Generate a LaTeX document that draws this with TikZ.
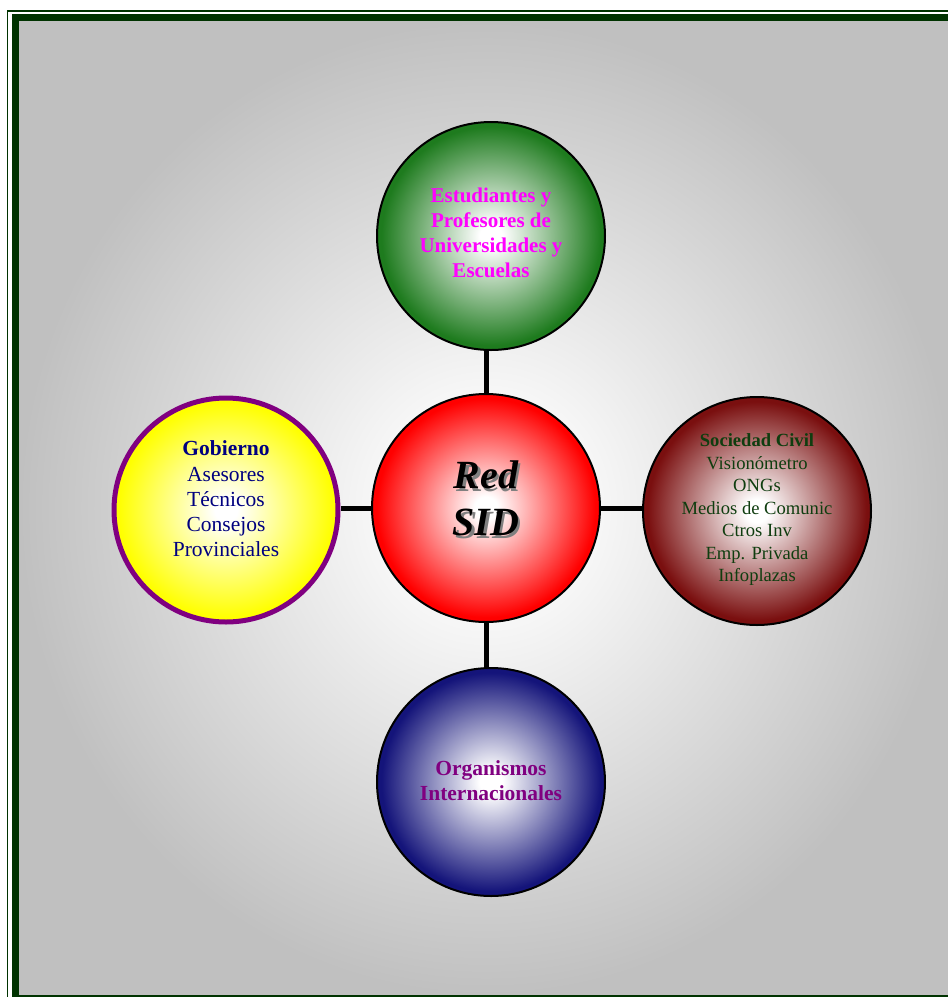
\documentclass[tikz,border=0pt]{standalone}
\usepackage{fontspec}
\setmainfont{Liberation Serif}
\definecolor{bggray}{HTML}{C0C0C0}
\definecolor{dkgreen}{HTML}{003300}
\definecolor{outc}{HTML}{FF0000}
\definecolor{cgreen}{HTML}{1E7B1E}
\definecolor{cred}{HTML}{FF0000}
\definecolor{cyellow}{HTML}{FFFF00}
\definecolor{cmaroon}{HTML}{7A0F0F}
\definecolor{cnavy}{HTML}{14147A}
\definecolor{tmagenta}{HTML}{FF00FF}
\definecolor{tnavy}{HTML}{000080}
\definecolor{tgreen}{HTML}{0F3D0F}
\definecolor{tpurple}{HTML}{800080}
\pgfdeclareradialshading{bgsh}{\pgfpoint{0bp}{0bp}}{color(0bp)=(white); color(3bp)=(white); color(25bp)=(bggray); color(50bp)=(bggray)}
\pgfdeclareradialshading[outc]{ballsh}{\pgfpoint{0bp}{0bp}}{color(0bp)=(white); color(2.5bp)=(white); color(24bp)=(outc); color(50bp)=(outc)}
\newcommand\shadowtxt[1]{\leavevmode\rlap{\kern2.5pt\raisebox{-2.5pt}{\color{gray}#1}}#1}
\tikzset{
  ball/.style={circle, minimum size=228pt, inner sep=0pt, draw=black, line width=2pt,
    /utils/exec={\colorlet{outc}{#1}}, shade, shading=ballsh, align=center},
  link/.style={line width=5pt, black},
  headfont/.style={font=\fontsize{21}{25}\selectfont\bfseries},
}
\begin{document}
\begin{tikzpicture}[x=1pt,y=-1pt]
\useasboundingbox (0,0) rectangle (948,997);
\clip (0,0) rectangle (948,997);
\fill[white] (0,0) rectangle (948,997);
\shade[shading=bgsh] (19,21) rectangle (953,995);
\draw[dkgreen, line width=1.8pt] (7.5,11) rectangle (1010,1010);
\draw[dkgreen, line width=7pt] (15.5,17.5) rectangle (1000,998.5);
% nodes
\node[ball=cgreen] (top) at (491,236) {};
\node[ball=cred] (ctr) at (486,508) {};
\node[ball=cyellow, draw=tpurple, line width=5pt, minimum size=224pt] (left) at (226,510) {};
\node[ball=cmaroon] (right) at (757,511) {};
\node[ball=cnavy] (bot) at (491,782) {};
% links
\draw[link] (ctr.north |- top.south) -- (ctr.north);
\draw[link] (ctr.south) -- (ctr.south |- bot.north);
\draw[link] (left.east |- ctr.west) -- (ctr.west);
\draw[link] (ctr.east) -- (right.west |- ctr.east);
% texts
\node[headfont, text=tmagenta, align=center] (toptext) at (491,233)
  {Estudiantes y\\Profesores de\\Universidades y\\Escuelas};
\node[font=\fontsize{40}{47}\selectfont\bfseries\itshape, text=black, align=center] (ctrtext) at (486,500) {\shadowtxt{Red}\\\shadowtxt{SID}};
\node[font=\fontsize{21.5}{25.2}\selectfont, text=tnavy, align=center] (lefttext) at (226,499)
  {\textbf{Gobierno}\\Asesores\\Técnicos\\Consejos\\Provinciales};
\node[font=\fontsize{18.6}{22.5}\selectfont, text=tgreen, align=center] (righttext) at (757,510)
  {\textbf{Sociedad Civil}\\Visionómetro\\ONGs\\Medios de Comunic\\Ctros Inv\\Emp. Privada\\Infoplazas};
\node[font=\fontsize{21.5}{25}\selectfont\bfseries, text=tpurple, align=center] (bottext) at (491,781)
  {Organismos\\Internacionales};
\end{tikzpicture}
\end{document}
